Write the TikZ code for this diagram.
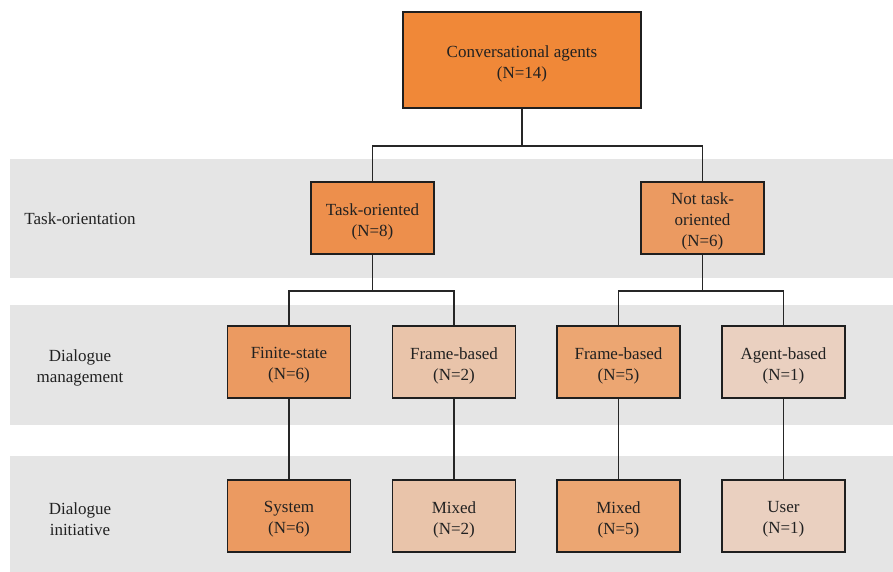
\documentclass[tikz,border=0pt]{standalone}
\usepackage{fontspec}
\setmainfont{Liberation Serif}
\definecolor{band}{RGB}{229,229,229}
\definecolor{c0}{RGB}{240,136,56}
\definecolor{c1}{RGB}{237,143,76}
\definecolor{c2}{RGB}{235,154,97}
\definecolor{c3}{RGB}{236,166,114}
\definecolor{c4}{RGB}{233,196,170}
\definecolor{c5}{RGB}{234,208,192}
\begin{document}
\begin{tikzpicture}[x=1pt,y=-1pt,
  box/.style={draw=black!88, line width=1.5pt, minimum width=123pt, minimum height=72pt, inner sep=0pt},
  txt/.style={align=center, font=\fontsize{17}{21}\selectfont, text=black!87, inner sep=0pt},
  conn/.style={draw=black!85, line width=1.6pt}]
\useasboundingbox (0,0) rectangle (893,572);
\fill[band] (10,159) rectangle (893,278);
\fill[band] (10,305) rectangle (893,425);
\fill[band] (10,456) rectangle (893,572);
\node[txt] (l1) at (80,219) {Task-orientation};
\node[txt] (l2) at (80,368) {Dialogue\\management};
\node[txt] (l3) at (80,519) {Dialogue\\initiative};
\node[box, fill=c0, minimum width=238pt, minimum height=96pt] (top) at (522,60) {};
\node[box, fill=c1] (to) at (372.5,218) {};
\node[box, fill=c2] (nto) at (702.5,218) {};
\node[box, fill=c2] (fs) at (289,362) {};
\node[box, fill=c4] (fb2) at (454,362) {};
\node[box, fill=c3] (fb5) at (618.5,362) {};
\node[box, fill=c5] (ab) at (783.5,362) {};
\node[box, fill=c2] (sys) at (289,516) {};
\node[box, fill=c4] (mx2) at (454,516) {};
\node[box, fill=c3] (mx5) at (618.5,516) {};
\node[box, fill=c5] (usr) at (783.5,516) {};
\node[txt] (top-t) at ([yshift=-3.5pt]top.center) {Conversational agents\\(N=14)};
\node[txt] (to-t) at ([yshift=-3.5pt]to.center) {Task-oriented\\(N=8)};
\node[txt] (nto-t) at ([yshift=-3pt]nto.center) {Not task-\\oriented\\(N=6)};
\node[txt] (fs-t) at ([yshift=-3.5pt]fs.center) {Finite-state\\(N=6)};
\node[txt] (fb2-t) at ([yshift=-3.5pt]fb2.center) {Frame-based\\(N=2)};
\node[txt] (fb5-t) at ([yshift=-3.5pt]fb5.center) {Frame-based\\(N=5)};
\node[txt] (ab-t) at ([yshift=-3.5pt]ab.center) {Agent-based\\(N=1)};
\node[txt] (sys-t) at ([yshift=-3.5pt]sys.center) {System\\(N=6)};
\node[txt] (mx2-t) at ([yshift=-3.5pt]mx2.center) {Mixed\\(N=2)};
\node[txt] (mx5-t) at ([yshift=-3.5pt]mx5.center) {Mixed\\(N=5)};
\node[txt] (usr-t) at ([yshift=-3.5pt]usr.center) {User\\(N=1)};
\path[conn] (top.south) -- ++(0,37) -| (to.north);
\path[conn] (top.south) -- ++(0,37) -| (nto.north);
\path[conn] (to.south) -- ++(0,36) -| (fs.north);
\path[conn] (to.south) -- ++(0,36) -| (fb2.north);
\path[conn] (nto.south) -- ++(0,36) -| (fb5.north);
\path[conn] (nto.south) -- ++(0,36) -| (ab.north);
\path[conn] (fs) -- (sys);
\path[conn] (fb2) -- (mx2);
\path[conn] (fb5) -- (mx5);
\path[conn] (ab) -- (usr);
\end{tikzpicture}
\end{document}
